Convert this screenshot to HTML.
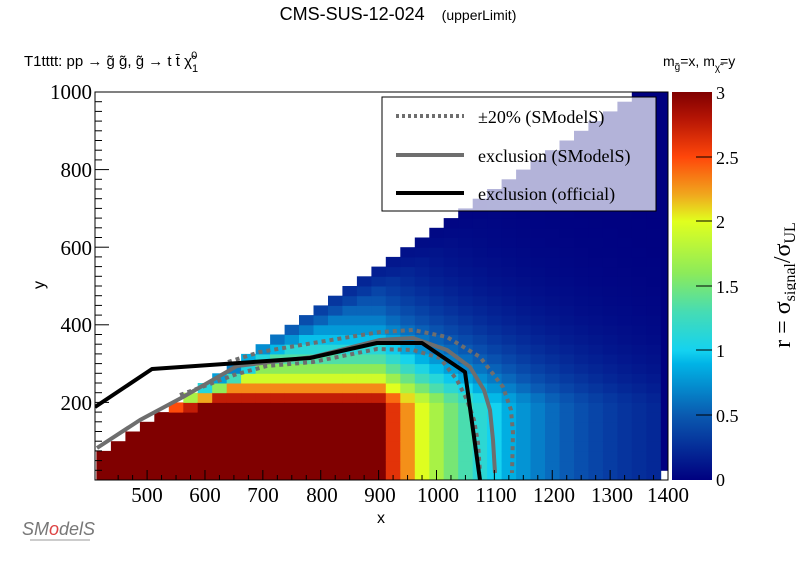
<!DOCTYPE html>
<html><head><meta charset="utf-8"><style>
body{margin:0;background:#fff;width:796px;height:572px;overflow:hidden}
svg{display:block}
.s{font-family:"Liberation Sans",sans-serif}
.t{font-family:"Liberation Serif",serif}
</style></head><body>
<svg id="c" width="796" height="572" xmlns="http://www.w3.org/2000/svg">
<defs>
<linearGradient id="cb" x1="0" y1="1" x2="0" y2="0">
<stop offset="0" stop-color="#000080"/><stop offset="0.167" stop-color="#0a5ab0"/>
<stop offset="0.3" stop-color="#00b4e6"/><stop offset="0.333" stop-color="#14d2f0"/>
<stop offset="0.433" stop-color="#46dcb4"/><stop offset="0.533" stop-color="#8ceb5a"/>
<stop offset="0.667" stop-color="#e1ff1e"/><stop offset="0.733" stop-color="#f0aa1e"/>
<stop offset="0.833" stop-color="#ff460a"/><stop offset="0.933" stop-color="#b41405"/>
<stop offset="1" stop-color="#800000"/></linearGradient>
<clipPath id="pc"><rect x="95" y="92" width="573" height="388"/></clipPath>
</defs>
<text x="398" y="20" class="s" font-size="18" text-anchor="middle">CMS-SUS-12-024 <tspan font-size="14" dx="12">(upperLimit)</tspan></text>
<text x="24" y="66" class="s" font-size="15">T1tttt: pp  → g̃ g̃, g̃  → t t̄  χ̃<tspan font-size="11" dy="6">1</tspan><tspan font-size="11" dy="-13" dx="-7">0</tspan></text>
<text x="663" y="66" class="s" font-size="14">m<tspan font-size="10" dy="4">g̃</tspan><tspan dy="-4">=x, m</tspan><tspan font-size="10" dy="5">χ̃</tspan><tspan dy="-5">=y</tspan></text>
<g id="heat" clip-path="url(#pc)"></g>
<g clip-path="url(#pc)" fill="none" stroke-linejoin="round">
<polyline points="97,448 140,420 183,397 237,366 313,357 380,340 413,338 447,350 470,367 484,390 490,410 493,440 495,473" stroke="#6e6e6e" stroke-width="4"/>
<polyline points="228,362 260,352 313,343 380,332 413,330 447,337 480,357 503,387 511,410 513,433 512,473" stroke="#6e6e6e" stroke-width="4" stroke-dasharray="4,4"/>
<polyline points="180,395 237,374 267,366 313,362 377,349 413,350 440,358 457,380 467,400 474,420 478,443 480,473" stroke="#6e6e6e" stroke-width="4" stroke-dasharray="4,4"/>
<polyline points="95,407 152,369 310,358 377,343 422,343 465,372 480,480" stroke="#000" stroke-width="4"/>
</g>
<rect x="95" y="92" width="573" height="388" fill="none" stroke="#000" stroke-width="1"/>
<rect x="382" y="97" width="274" height="114" fill="#fff" fill-opacity="0.7" stroke="#000" stroke-width="1"/>
<line x1="396" y1="116" x2="464" y2="116" stroke="#6e6e6e" stroke-width="4" stroke-dasharray="3,3"/>
<line x1="396" y1="155" x2="464" y2="155" stroke="#6e6e6e" stroke-width="4"/>
<line x1="396" y1="193" x2="464" y2="193" stroke="#000" stroke-width="4"/>
<text x="478" y="123" class="t" font-size="18">±20% (SModelS)</text>
<text x="478" y="162" class="t" font-size="18">exclusion (SModelS)</text>
<text x="478" y="200" class="t" font-size="18">exclusion (official)</text>
<g id="ax" stroke="#000" stroke-width="1"></g>
<g class="t" font-size="21" text-anchor="end">
<text x="92" y="99">1000</text><text x="92" y="177">800</text><text x="92" y="255">600</text><text x="92" y="332">400</text><text x="92" y="410">200</text>
</g>
<g class="t" font-size="21" text-anchor="middle">
<text x="147" y="502">500</text><text x="205" y="502">600</text><text x="263" y="502">700</text><text x="322" y="502">800</text><text x="380" y="502">900</text><text x="438" y="502">1000</text><text x="496" y="502">1100</text><text x="554" y="502">1200</text><text x="612" y="502">1300</text><text x="668" y="502">1400</text>
</g>
<text x="381" y="523" class="s" font-size="16" text-anchor="middle">x</text>
<text x="44" y="285" class="s" font-size="16" text-anchor="middle" transform="rotate(-90 44 285)">y</text>
<rect x="672" y="92" width="40" height="388" fill="url(#cb)"/>
<g class="t" font-size="18">
<text x="716" y="99">3</text><text x="716" y="164">2.5</text><text x="716" y="228">2</text><text x="716" y="293">1.5</text><text x="716" y="357">1</text><text x="716" y="422">0.5</text><text x="716" y="486">0</text>
</g>
<g stroke="#000"><line x1="696" y1="157" x2="712" y2="157"/><line x1="696" y1="221" x2="712" y2="221"/><line x1="696" y1="286" x2="712" y2="286"/><line x1="696" y1="350" x2="712" y2="350"/><line x1="696" y1="415" x2="712" y2="415"/></g>
<text x="790" y="285" class="t" font-size="24" text-anchor="middle" transform="rotate(-90 790 285)">r = σ<tspan font-size="16" dy="5">signal</tspan><tspan dy="-5">/σ</tspan><tspan font-size="16" dy="5">UL</tspan></text>
<text x="22" y="535" class="s" font-size="18" fill="#777" font-style="italic">SM<tspan fill="#d44">o</tspan>delS</text>
<line x1="30" y1="540" x2="90" y2="540" stroke="#ccc" stroke-width="2"/>
</svg>
<script>
var NS="http://www.w3.org/2000/svg";
function px(x){return 95+(x-410)*0.5788;}function py(y){return 480-y*0.388;}
var st=[[0,0,0,128],[0.5,10,90,180],[0.9,0,180,230],[1,20,210,240],[1.3,70,220,180],[1.6,140,235,90],[2,225,255,30],[2.2,240,170,30],[2.5,255,70,10],[2.8,180,20,5],[3,128,0,0]];
function col(r){r=Math.max(0,Math.min(3,r));for(var i=1;i<st.length;i++){if(r<=st[i][0]){var a=st[i-1],b=st[i],t=(r-a[0])/(b[0]-a[0]);return "rgb("+[1,2,3].map(function(k){return Math.round(a[k]+(b[k]-a[k])*t)}).join(",")+")";}}return "rgb(128,0,0)";}
var g=document.getElementById("heat"),h="";
for(var x=412.5;x<1400;x+=25){for(var y=0;y<1000;y+=25){
 var xc=x+12.5,yc=y+12.5,d=xc-350-yc;
 var isLast=x>=1375;
 if(!isLast&&d<0)continue;
 if(isLast&&y==0)continue;
 var A=Math.max(0,xc-900)/182+Math.max(0,yc-200)/140;
 var w=Math.max(0,Math.min(1,(yc-170)/80));
 if(d<60)A+=(60-d)/55*w*(yc<300?1:0.5);
 var r=isLast?0:3*Math.exp(-A);
 h+='<rect x="'+px(x).toFixed(1)+'" y="'+py(y+25).toFixed(1)+'" width="14.9" height="10.2" fill="'+col(r)+'"/>';
}}
g.innerHTML=h;
var ax=document.getElementById("ax"),s="";
for(var v=450;v<=1400;v+=25){var X=px(v),L=(v%100==0)?10:5;s+='<line x1="'+X+'" y1="480" x2="'+X+'" y2="'+(480-L)+'"/>';}
for(var v=25;v<1000;v+=25){var Y=py(v),L=(v%200==0)?14:7;s+='<line x1="95" y1="'+Y+'" x2="'+(95+L)+'" y2="'+Y+'"/>';}
ax.innerHTML=s;
</script>
</body></html>
